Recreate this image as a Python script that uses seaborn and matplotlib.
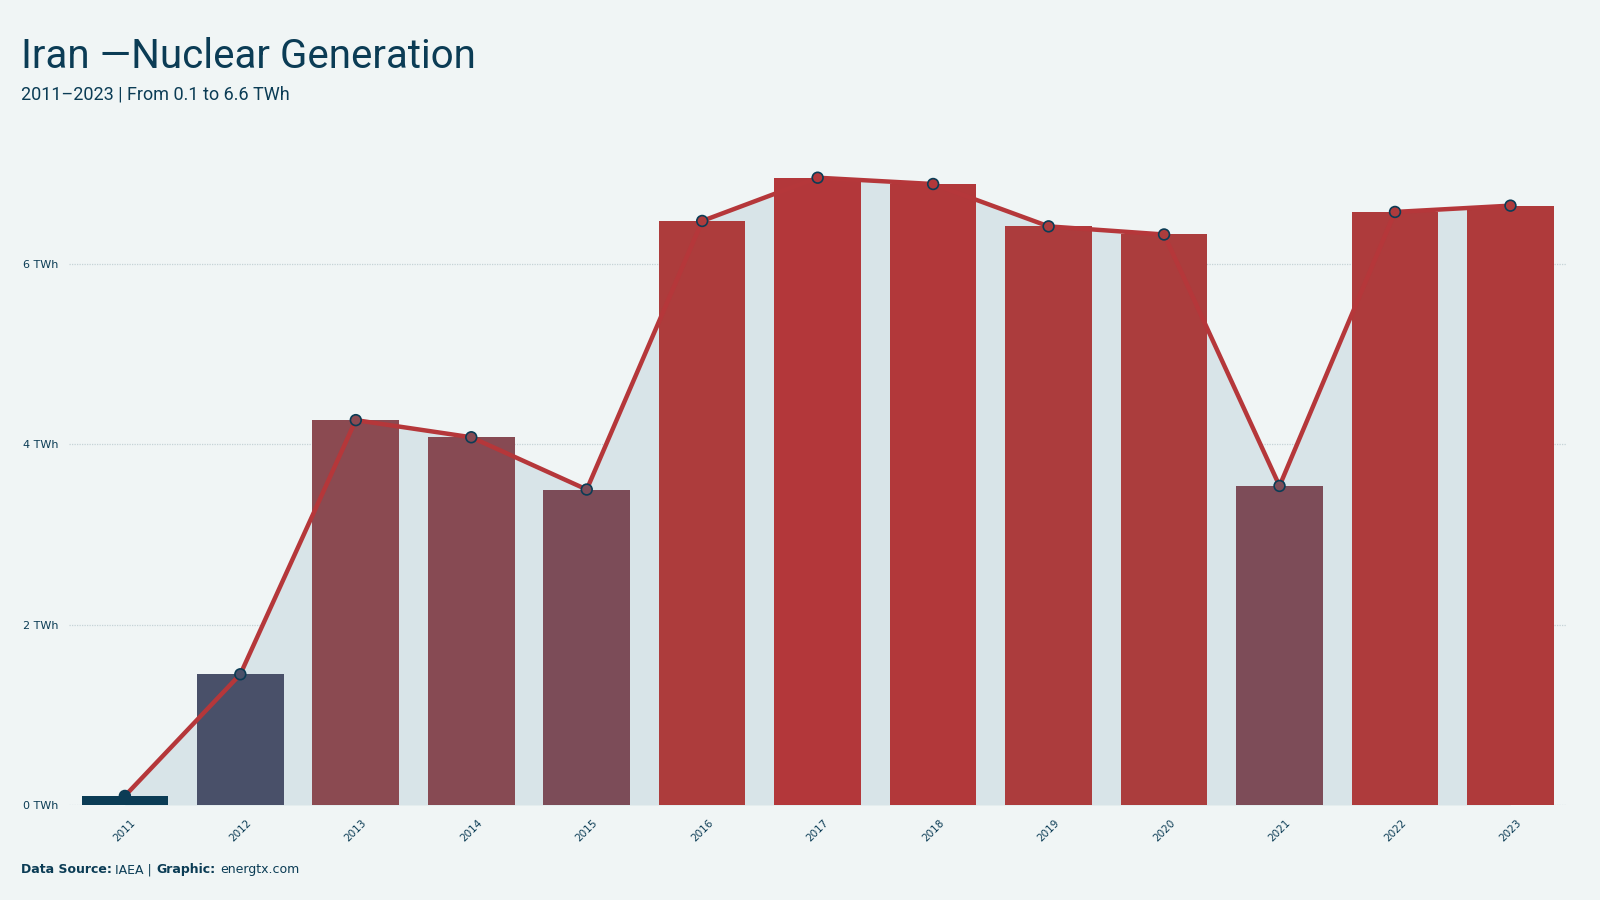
import numpy as np
import matplotlib
matplotlib.use("Agg")
import matplotlib.pyplot as plt
import seaborn as sns
import pandas as pd
from matplotlib.colors import LinearSegmentedColormap, Normalize

years = [2011, 2012, 2013, 2014, 2015, 2016, 2017, 2018, 2019, 2020, 2021, 2022, 2023]
twh = [0.10, 1.45, 4.27, 4.08, 3.50, 6.48, 6.96, 6.89, 6.42, 6.33, 3.54, 6.58, 6.65]
y_ticks = [0, 2, 4, 6]

BG = "#f0f5f5"
NAVY = "#0b3c55"
RED = "#b5373a"
FILL = "#d8e4e8"

sns.set_theme(style="white")
plt.rcParams["font.family"] = ["Roboto", "DejaVu Sans"]

df = pd.DataFrame({"year": [str(y) for y in years], "twh": twh})

# colour ramp navy -> mauve -> red by value
cmap = LinearSegmentedColormap.from_list("gen", [
    (0.0, "#0b3c55"), (0.2, "#4a5069"), (0.5, "#7d4c58"),
    (0.6, "#8a4a52"), (0.93, "#ad3c3c"), (1.0, "#b3373a")])
norm = Normalize(min(twh), max(twh))
bar_colors = [cmap(norm(v)) for v in twh]

fig = plt.figure(figsize=(16, 9), dpi=100, facecolor=BG)
ax = fig.add_axes([0.0434, 0.1056, 0.936, 0.731])
ax.set_facecolor(BG)

xs = np.arange(len(years))
ax.fill_between(xs, twh, 0, color=FILL, zorder=1, lw=0)
sns.barplot(data=df, x="year", y="twh", hue="year", palette=bar_colors,
            width=0.75, legend=False, ax=ax, zorder=2, saturation=1, linewidth=0)
ax.plot(xs, twh, color=RED, lw=3.2, zorder=3, solid_capstyle="round")
ax.scatter(xs, twh, s=60, c=bar_colors, edgecolors=NAVY, linewidths=1.2, zorder=4)

ax.set_xlim(-0.48, 12.49)
ax.set_ylim(0, 7.3)
ax.set_yticks(y_ticks)
ax.set_yticklabels([f"{t} TWh" for t in y_ticks], family=["DejaVu Sans"])
ax.yaxis.grid(True, color="#c5d3d6", ls=(0, (1, 1)), lw=0.9, zorder=0)
ax.set_axisbelow(True)
ax.tick_params(axis="y", labelsize=8, colors=NAVY, length=0, pad=8)
ax.tick_params(axis="x", labelsize=7.5, colors=NAVY, length=0, pad=9)
for lab in ax.get_xticklabels():
    lab.set_rotation(45)
    lab.set_family(["DejaVu Sans"])
ax.set_xlabel("")
ax.set_ylabel("")
sns.despine(ax=ax, left=True, bottom=True)

fig.text(0.013, 0.925, "Iran \u2014Nuclear Generation", fontsize=29, color=NAVY, va="baseline")
fig.text(0.013, 0.889, "2011\u20132023 | From 0.1 to 6.6 TWh", fontsize=13, color=NAVY, va="baseline")

# footer with bold/regular runs
fy = 0.03
fs = 9
t1 = fig.text(0.013, fy, "Data Source:", fontsize=fs, weight="bold", color=NAVY, family=["DejaVu Sans"])
fig.canvas.draw()
r = fig.canvas.get_renderer()
x = 0.013 + t1.get_window_extent(r).width / 1600 + 0.002
t2 = fig.text(x, fy, "IAEA |", fontsize=fs, color=NAVY, family=["DejaVu Sans"])
x += t2.get_window_extent(r).width / 1600 + 0.003
t3 = fig.text(x, fy, "Graphic:", fontsize=fs, weight="bold", color=NAVY, family=["DejaVu Sans"])
x += t3.get_window_extent(r).width / 1600 + 0.003
fig.text(x, fy, "energtx.com", fontsize=fs, color=NAVY, family=["DejaVu Sans"])

fig.savefig("out.png", dpi=100, facecolor=BG)
